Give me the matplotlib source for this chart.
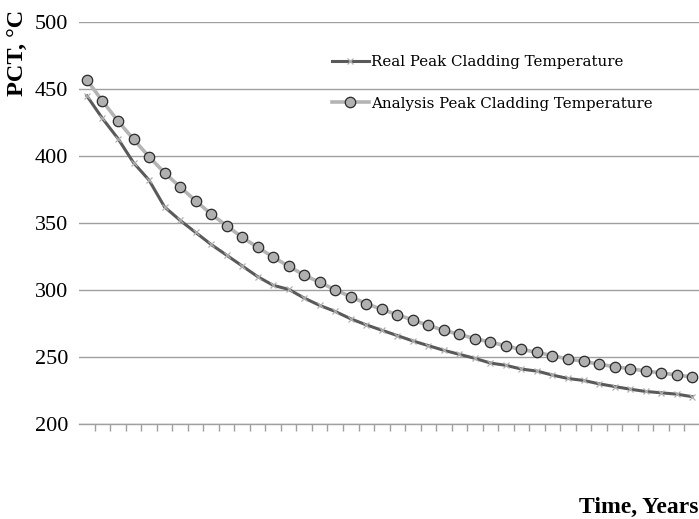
import numpy as np
import matplotlib
matplotlib.use("Agg")
import matplotlib.pyplot as plt

# Peak cladding temperature, one value per year (40 points)
real_pct = [444.8, 428, 413, 395, 382, 362, 352, 343, 334, 326,
            318, 310, 303.5, 300.5, 294, 288.5, 284, 278.5, 274, 270,
            266, 262, 258.5, 255, 252, 249, 245.5, 243.8, 241, 239.5,
            236.5, 234, 232.5, 230, 228, 226, 224.3, 223.3, 222.3, 220.4]
analysis_pct = [456.7, 441.0, 426.1, 412.5, 399.5, 387.5, 376.9, 366.6, 356.7, 348.0,
                339.3, 331.9, 324.6, 317.7, 311.2, 305.7, 300.2, 295.0, 289.8, 285.6,
                281.6, 277.6, 273.6, 269.9, 266.9, 263.7, 261.2, 258.2, 255.7, 253.5,
                251.0, 248.5, 246.8, 244.6, 242.8, 241.3, 239.6, 238.1, 236.6, 235.1]
y_ticks = [200, 250, 300, 350, 400, 450, 500]

plt.rcParams['font.family'] = 'Liberation Serif'

x = np.arange(len(real_pct))

fig = plt.figure(figsize=(6.99, 5.19), dpi=100)
ax = fig.add_axes([0.1133, 0.183, 0.888, 0.7746])

ax.plot(x, real_pct, color="#5a5a5a", linewidth=2.2, marker="x", markersize=5,
        markeredgecolor="#b0b0b0", markeredgewidth=0.9,
        label="Real Peak Cladding Temperature", zorder=3)
ax.plot(x, analysis_pct, color="#b4b4b4", linewidth=2.6, marker="o", markersize=7.5,
        markerfacecolor="#b0b0b0", markeredgecolor="#2a2a2a", markeredgewidth=0.9,
        label="Analysis Peak Cladding Temperature", zorder=4)

ax.set_xlim(-0.5, len(x) - 0.5)
ax.set_ylim(200, 500)
ax.set_yticks(y_ticks)
ax.set_yticklabels([str(v) for v in y_ticks], fontfamily="Liberation Serif", fontsize=16)
ax.set_xticks(np.arange(0.5, len(x) - 1, 1.0))
ax.set_xticklabels([])
ax.tick_params(axis="x", length=5, width=1, color="#a0a0a0", direction="out")
ax.tick_params(axis="y", length=0, pad=8)
ax.grid(axis="y", color="#a0a0a0", linewidth=1)
ax.set_axisbelow(True)
for side in ["left", "right", "top"]:
    ax.spines[side].set_visible(False)
ax.spines["bottom"].set_color("#a0a0a0")
ax.spines["bottom"].set_linewidth(1)

leg = ax.legend(loc="upper left", bbox_to_anchor=(0.385, 0.952), frameon=False,
                prop={"family": "DejaVu Serif", "size": 10.8},
                handlelength=2.5, handletextpad=0.1, labelspacing=1.85)

fig.text(0.026, 0.898, "PCT, °C", rotation=90, fontsize=17.5, fontweight="bold",
         fontfamily="Liberation Serif", ha="center", va="center")
fig.text(0.828, 0.023, "Time, Years", fontsize=17, fontweight="bold",
         fontfamily="Liberation Serif", ha="left", va="center")

fig.savefig("out.png", dpi=100)
